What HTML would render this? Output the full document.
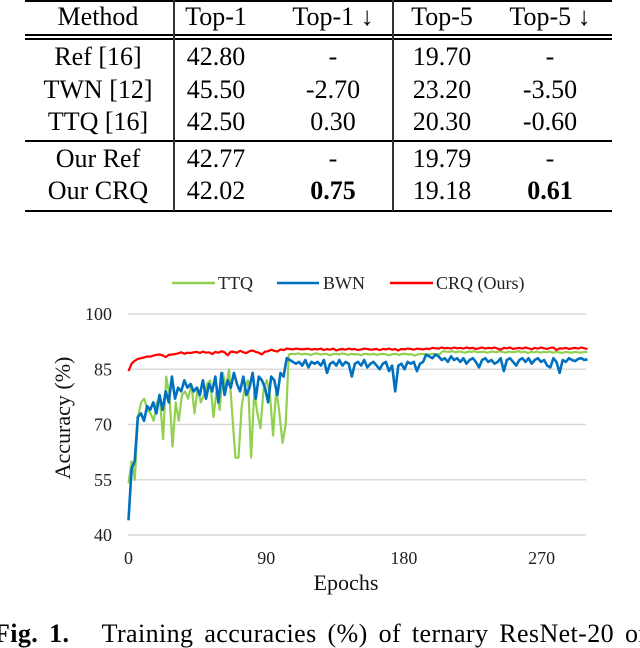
<!DOCTYPE html>
<html><head><meta charset="utf-8"><style>
body{margin:0;width:640px;height:632px;overflow:hidden;background:#fff;position:relative;font-family:"Liberation Serif",serif;color:#000}
.t{position:absolute;font-size:26px;transform:translate(-50%,-50%);white-space:nowrap;line-height:1}
.hl{position:absolute;left:25px;width:587px;background:#000}
.vl{position:absolute;top:0;width:1.5px;height:211px;background:#333}
</style></head><body>
<div>
<div class="hl" style="top:0;height:1.5px"></div>
<div class="hl" style="top:34px;height:1.5px"></div>
<div class="hl" style="top:38px;height:1.5px"></div>
<div class="hl" style="top:140px;height:1.5px"></div>
<div class="hl" style="top:210px;height:1.5px"></div>
<div class="vl" style="left:173px"></div>
<div class="vl" style="left:392px"></div>
</div>
<div id="cells"></div>
<svg id="chart" width="640" height="632" style="position:absolute;left:0;top:0" font-family="Liberation Serif, serif"></svg>
<div style="position:absolute;left:-6px;top:621px;font-size:26px;line-height:1;white-space:nowrap;word-spacing:4px;letter-spacing:0.4px"><b>Fig. 1.</b>&nbsp;&nbsp; Training accuracies (%) of ternary ResNet-20 on</div>
<script>
const tableRows=[["Method","Top-1","Top-1 ↓","Top-5","Top-5 ↓"],["Ref [16]","42.80","-","19.70","-"],["TWN [12]","45.50","-2.70","23.20","-3.50"],["TTQ [16]","42.50","0.30","20.30","-0.60"],["Our Ref","42.77","-","19.79","-"],["Our CRQ","42.02","0.75","19.18","0.61"]];
const colX=[98,216,333,442,550], rowY=[17,57,90,122,159,191];
const cells=document.getElementById('cells');
tableRows.forEach((r,i)=>r.forEach((v,j)=>{const d=document.createElement('div');d.className='t';d.textContent=v;d.style.left=colX[j]+'px';d.style.top=rowY[i]+'px';if(i==5&&(j==2||j==4))d.style.fontWeight='bold';


cells.appendChild(d);}));

const yTicks=[40,55,70,85,100];
const xTicks=[0,90,180,270];
const ttq=[54,60,55,72,76,77,74,73,71,76,77,66,83,78,64,76,71,78,79,77,81,73,80,76,78,81,82,72,79,74,84,80,85,73,61,61,75,80,82,61,79,73,69,80,82,78,67,80,73,65,70,89,89.2,89.1,89.3,89,89.2,89.1,88.9,89.2,89.3,89,89.1,89.2,88.8,89.1,89.2,89,89.3,89.1,88.9,89.2,89,89.1,88.8,89.2,89.1,89,89.2,88.9,89.1,89.2,89,88.8,89.1,89.2,88.9,89.1,89.2,89,89.1,88.7,89,89.2,89.1,88.9,89.1,89.2,89,89.1,89.9,89.8,89.7,89.9,89.6,89.8,89.7,89.5,89.8,89.7,89.9,89.6,89.7,89.8,89.5,89.7,89.8,89.6,89.9,89.7,89.5,89.8,89.6,89.7,89.9,89.6,89.8,89.4,89.7,89.6,89.8,89.5,89.7,89.6,89.8,89.5,89.7,89.6,89.4,89.7,89.6,89.5,89.7,89.6,89.5,89.7,89.6];
const bwn=[44,58,60,72,73,71,75,74,76,73,78,74,79,76,83,77,80,79,82,80,81,79,80,78,82,77,81,79,83,76,84,78,82,80,84,81,79,83,78,80,84,77,83,82,80,76,83,82,78,84,83,88,87.5,87,86.5,87,86,87.5,85.5,87,86.5,87,86,87.5,84,86.5,87,86,87.5,86,87,86.5,83,86.5,87,86,87.5,85.5,86.5,87,86,85,86.5,87,84.5,86,79,86,86.5,85,87,86.5,87,84.5,86.5,87,89,88.5,88,89,88.5,87.5,88,87,88.5,87.5,88,87,88,86.5,87.5,88,87,85.5,87.5,88,87,87.5,86.5,87,88,84.5,87.5,88,87,86,87.5,88,87,88,86.5,87.5,88,87,87.5,86,85.5,88,87,84,87.5,87,88,87.5,87.2,87.8,88,87.5,87.7];
const crq=[84.5,86.5,87.3,87.8,88.0,88.2,88.5,88.4,88.7,88.9,89.0,88.8,88.3,88.9,89.0,89.1,89.3,89.6,89.2,89.5,89.4,89.6,89.7,89.4,89.8,89.5,89.6,89.1,89.7,89.5,89.9,89.6,88.8,89.8,89.7,89.5,90.0,89.6,89.4,89.9,90.1,89.7,89.5,89.0,89.8,89.9,90.3,90.0,89.8,90.4,90.2,90.6,90.5,90.4,90.6,90.5,90.4,90.5,90.6,90.3,90.5,90.4,90.6,90.2,90.5,90.3,90.6,90.1,90.4,90.5,90.3,90.6,90.4,90.5,90.2,90.4,90.6,90.5,90.3,90.4,90.5,90.2,90.5,90.4,90.6,90.3,90.5,90.1,90.5,90.4,90.6,90.5,90.3,90.6,90.5,90.4,90.6,90.5,90.8,90.7,90.6,90.9,90.7,90.8,90.6,90.9,90.7,90.8,90.6,90.9,90.7,90.8,90.5,90.7,90.9,90.6,90.8,90.7,90.9,90.6,90.3,90.8,90.7,90.9,90.5,90.7,90.8,90.6,90.9,90.7,90.4,90.8,90.6,90.9,90.7,90.5,90.8,90.9,90.2,90.7,90.6,90.8,90.5,90.7,90.8,90.6,90.9,90.7,90.5];

const NS='http://www.w3.org/2000/svg', svg=document.getElementById('chart');
const X=e=>128.5+(e/90)*137.7, Y=v=>314+(100-v)/15*55.25;
function mk(t,a,txt){const e=document.createElementNS(NS,t);for(const k in a)e.setAttribute(k,a[k]);if(txt!=null)e.textContent=txt;svg.appendChild(e);return e;}
yTicks.forEach(v=>{
 const g=mk('line',{x1:128,x2:586,y1:Y(v),y2:Y(v),stroke:'#d9d9d9','stroke-width':1.5});
 
 
 const t=mk('text',{x:112,y:Y(v)+6,'text-anchor':'end','font-size':18,fill:'#222'},v);
 
 
});
xTicks.forEach(v=>{
 const t=mk('text',{x:X(v),y:564,'text-anchor':'middle','font-size':18,fill:'#222'},v);
 
 
});
function series(arr,color,name,w){
 const n=arr.length;const pts=arr.map((v,i)=>X(i*300/(n-1)).toFixed(1)+','+Y(v).toFixed(1)).join(' ');
 const p=mk('polyline',{points:pts,fill:'none',stroke:color,'stroke-width':w,'stroke-linejoin':'round'});
 
 
}
series(ttq,'#92d050','ttq-line',2.2);
series(bwn,'#0070c0','bwn-line',2.6);
series(crq,'#ff0000','crq-line',2.2);
const legend=[['TTQ','#92d050',172,215,218],['BWN','#0070c0',277,319,323],['CRQ (Ours)','#ff0000',390,433,436]];
legend.forEach(l=>{
 const ln=mk('line',{x1:l[2],x2:l[3],y1:283,y2:283,stroke:l[1],'stroke-width':2.5});
 
 
 const t=mk('text',{x:l[4],y:289,'font-size':18,fill:'#222'},l[0]);
 
 
});
const xt=mk('text',{x:346,y:590,'text-anchor':'middle','font-size':22,fill:'#111'},'Epochs');


const yt=mk('text',{x:0,y:0,'text-anchor':'middle','font-size':22,fill:'#111',transform:'translate(70,418) rotate(-90)'},'Accuracy (%)');


</script>
</body></html>
